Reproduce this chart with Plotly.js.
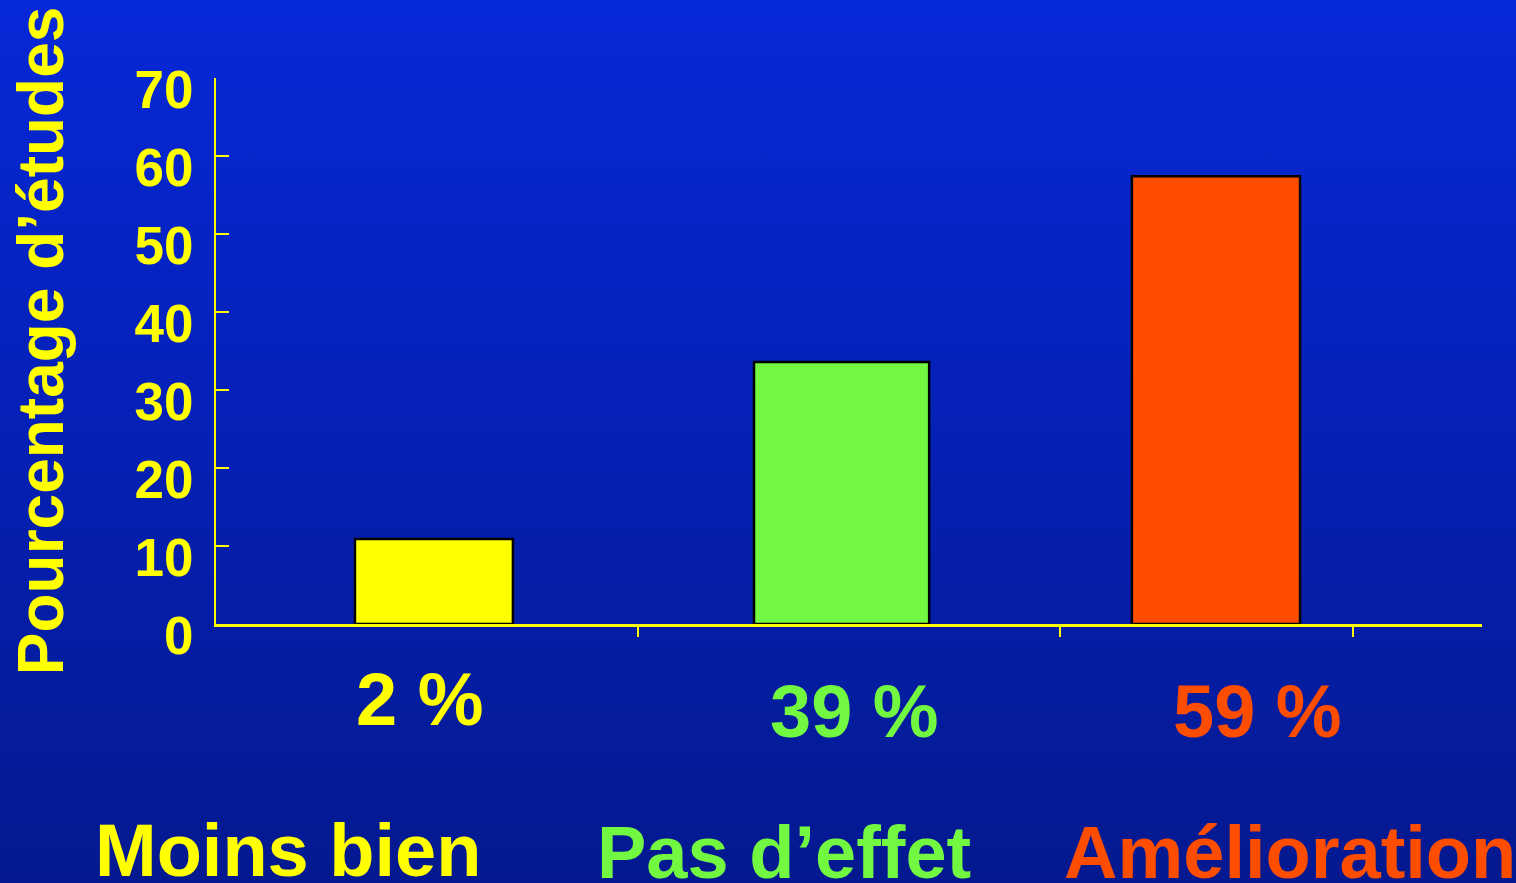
<!DOCTYPE html>
<html>
<head>
<meta charset="utf-8">
<script src="https://cdn.plot.ly/plotly-3.0.1.min.js"></script>
<style>
  html, body { margin: 0; padding: 0; width: 1516px; height: 883px; overflow: hidden; }
  body { background: linear-gradient(to bottom, #0728d8 0%, #0521b8 45%, #04198f 100%); }
  #chart { width: 1516px; height: 883px; }
</style>
</head>
<body>
<div id="chart"></div>
<script>
// ---- data ----
const categories = ['Moins bien', 'Pas d\u2019effet', 'Am\u00e9lioration'];
const barValues = [10.9, 33.6, 57.4];
const percentLabels = ['2 %', '39 %', '59 %'];
const yTickValues = [0, 10, 20, 30, 40, 50, 60, 70];
const yTitle = 'Pourcentage d\u2019\u00e9tudes';

// ---- styles ----
const barColors = ['#ffff00', '#72f841', '#ff4d00'];
const textColors = ['#ffff00', '#72f841', '#ff4d00'];
const FONT = '"Liberation Sans", Arial, Helvetica, sans-serif';
const YELLOW = '#ffff00';

const xIndex = categories.map((c, i) => i);

const trace = {
  type: 'bar',
  x: xIndex,
  y: barValues,
  text: categories,
  hoverinfo: 'text+y',
  textposition: 'none',
  width: [0.404, 0.448, 0.43],
  offset: [-0.2156, -0.195, -0.2284],
  marker: { color: barColors, line: { color: '#000000', width: 2.5 } }
};

// label placement (paper units)
const pctPos = [
  { x: 0.1611, y: -0.139 },
  { x: 0.5047, y: -0.161 },
  { x: 0.8223, y: -0.161 }
];
const catPos = [
  { x: -0.0972, y: -0.414 },
  { x: 0.2993, y: -0.418 },
  { x: 0.6682, y: -0.418 }
];

const annotations = [];
percentLabels.forEach((t, i) => {
  annotations.push({
    text: t, xref: 'paper', yref: 'paper', x: pctPos[i].x, y: pctPos[i].y,
    xanchor: 'center', yanchor: 'middle', showarrow: false,
    font: { family: FONT, size: 74, color: textColors[i], weight: 'bold' }
  });
});
categories.forEach((t, i) => {
  annotations.push({
    text: t, xref: 'paper', yref: 'paper', x: catPos[i].x, y: catPos[i].y,
    xanchor: 'left', yanchor: 'middle', showarrow: false,
    font: { family: FONT, size: 74, color: textColors[i], weight: 'bold' }
  });
});
annotations.push({
  text: yTitle, xref: 'paper', yref: 'paper', x: -0.1382, y: 0.518,
  xanchor: 'center', yanchor: 'middle', textangle: -90, showarrow: false,
  font: { family: FONT, size: 64, color: YELLOW, weight: 'bold' }
});

const layout = {
  width: 1516,
  height: 883,
  margin: { l: 216, r: 34, t: 78, b: 259, pad: 0 },
  paper_bgcolor: 'rgba(0,0,0,0)',
  plot_bgcolor: 'rgba(0,0,0,0)',
  showlegend: false,
  bargap: 0,
  xaxis: {
    type: 'linear',
    range: [-0.571, 2.667],
    showline: true, linecolor: YELLOW, linewidth: 3,
    ticks: 'outside', ticklen: 10, tickwidth: 2, tickcolor: YELLOW,
    tickvals: [0.508, 1.587, 2.337], ticktext: ['', '', ''],
    showgrid: false, zeroline: false, fixedrange: true
  },
  yaxis: {
    range: [0, 70],
    tickvals: yTickValues,
    ticktext: yTickValues.map(String),
    showline: true, linecolor: YELLOW, linewidth: 2,
    ticks: 'inside', ticklen: 13, tickwidth: 2, tickcolor: YELLOW,
    ticklabelstandoff: 10,
    ticklabelshift: 11,
    tickfont: { family: FONT, size: 53, color: YELLOW, weight: 'bold' },
    showgrid: false, zeroline: false, fixedrange: true
  },
  annotations: annotations
};

Plotly.newPlot('chart', [trace], layout, { displayModeBar: false, staticPlot: true });
</script>
</body>
</html>
